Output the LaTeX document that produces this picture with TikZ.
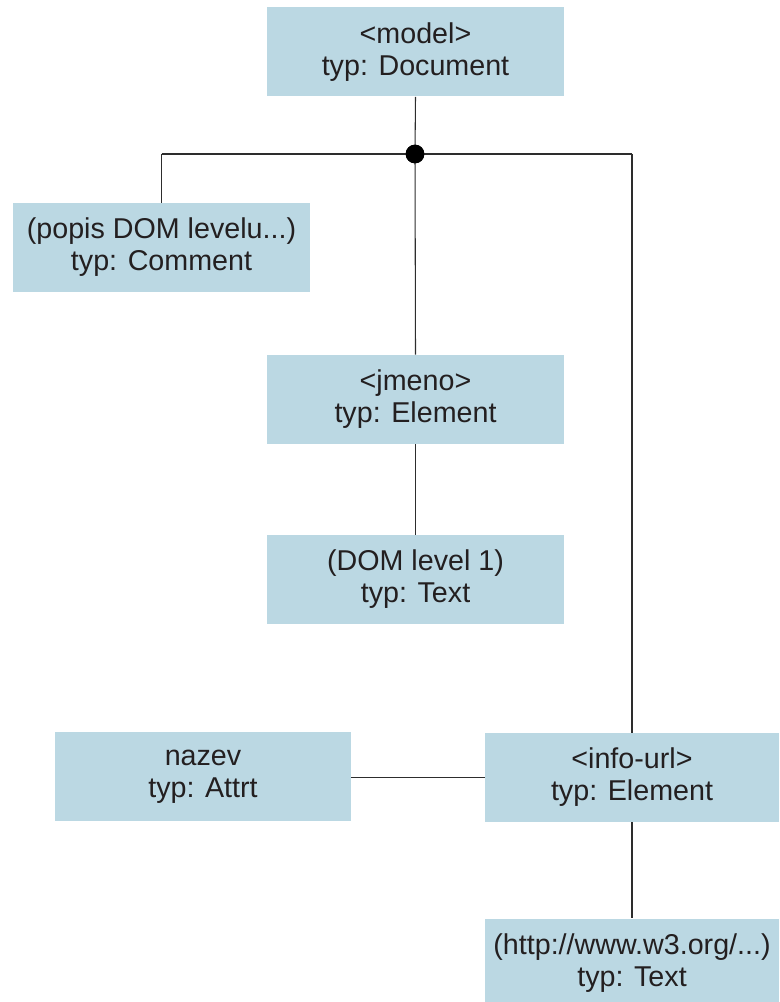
\documentclass[tikz,border=0pt]{standalone}
\usepackage{fontspec}
\setmainfont{Liberation Sans}
\definecolor{boxfill}{RGB}{187,216,227}
\definecolor{ink}{RGB}{35,31,32}
\definecolor{wire}{RGB}{45,45,45}
\begin{document}
\begin{tikzpicture}[x=0.75pt,y=-0.75pt,
  domnode/.style={rectangle, fill=boxfill, draw=none, text=ink,
    minimum width=222.75pt, minimum height=66.75pt, inner sep=0pt,
    align=center, font=\fontsize{21.5pt}{24pt}\selectfont},
  link/.style={draw=wire, line width=0.8pt},
  hubdot/.style={circle, fill=black, inner sep=0pt, minimum size=14pt}]
  \useasboundingbox (0,0) rectangle (779,1002);
  \clip (0,0) rectangle (779,1002);

  % tree nodes
  \node[domnode] (model)   at (415.5,52)   {<model>\\typ: Document};
  \node[domnode] (comment) at (161.5,247.5) {(popis DOM levelu...)\\typ: Comment};
  \node[domnode] (jmeno)   at (415.5,399.5) {<jmeno>\\typ: Element};
  \node[domnode] (dom)     at (415.5,579.5) {(DOM level 1)\\typ: Text};
  \node[domnode, minimum width=222pt] (nazev) at (203,776.5) {nazev\\typ: Attrt};
  \node[domnode, minimum width=220.5pt] (info) at (632,777.5) {<info-url>\\typ: Element};
  \node[domnode, minimum width=220.5pt] (http) at (632,963) {(http://www.w3.org/...)\\typ: Text};

  % branching bus under the document node
  \node[hubdot] (hub) at (415,154) {};
  \coordinate (lcorner) at (comment.north |- hub);
  \coordinate (rcorner) at (info.north |- hub);
  \coordinate (attrend) at (info.west -| nazev.east);

  \draw[link] (model.south) -- (hub.center);
  \draw[link] (lcorner) -- (rcorner);
  \draw[link] (lcorner) -- (comment.north);
  \draw[link] (hub.center) -- (jmeno.north);
  \draw[link] (rcorner) -- (info.north);
  \draw[link] (jmeno.south) -- (dom.north);
  \draw[link] (attrend) -- (info.west);
  \draw[link] (info.south) -- (http.north);
  \node[hubdot] at (hub) {};
\end{tikzpicture}
\end{document}
